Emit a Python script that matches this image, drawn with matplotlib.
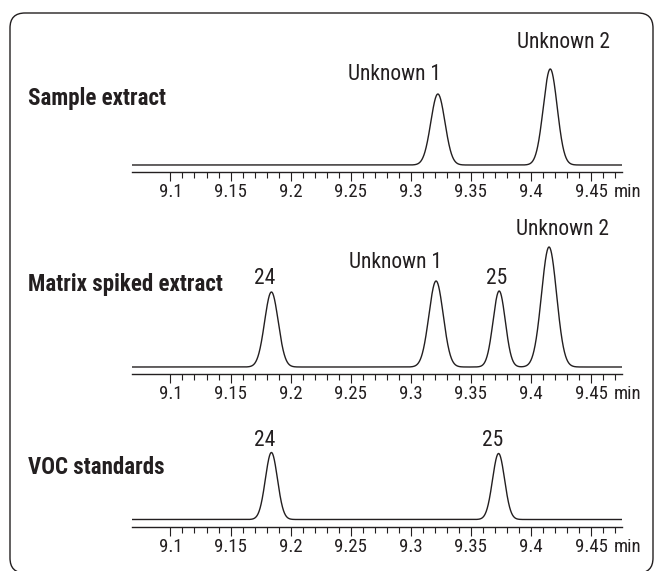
import matplotlib
matplotlib.use('Agg')
import numpy as np
import matplotlib.pyplot as plt
from matplotlib import font_manager as fm
from matplotlib.patches import FancyBboxPatch
from matplotlib.ticker import FixedLocator, FormatStrFormatter

INK = '#231f20'

# time axis (min)
t_start, t_end = 9.068, 9.4757
major_ticks = [9.10, 9.15, 9.20, 9.25, 9.30, 9.35, 9.40, 9.45]
minor_ticks = [9.11, 9.12, 9.13, 9.14, 9.16, 9.17, 9.18, 9.19, 9.21, 9.22, 9.23, 9.24,
               9.26, 9.27, 9.28, 9.29, 9.31, 9.32, 9.33, 9.34, 9.36, 9.37, 9.38, 9.39,
               9.41, 9.42, 9.43, 9.44, 9.46, 9.47]

# peak tables: retention time, height (rel.), FWHM (min)
sample_names = ['Unknown 1', 'Unknown 2']
sample_rt = [9.3225, 9.416]
sample_h = [71, 96]
sample_w = [0.0138, 0.0136]

spiked_names = ['24', 'Unknown 1', '25', 'Unknown 2']
spiked_rt = [9.184, 9.321, 9.3735, 9.415]
spiked_h = [75, 86, 76, 120]
spiked_w = [0.0133, 0.0140, 0.0120, 0.0148]

voc_names = ['24', '25']
voc_rt = [9.184, 9.373]
voc_h = [67, 66]
voc_w = [0.0118, 0.0118]


# pick a condensed face if one is installed, else plain Liberation Sans at a smaller size
def find_face():
    for fam in ['Roboto Condensed', 'Liberation Sans Narrow', 'Noto Sans Condensed']:
        try:
            fm.findfont(fm.FontProperties(family=fam), fallback_to_default=False)
            return fam, 'normal', 1.0
        except ValueError:
            pass
    for fam in ['Noto Sans', 'DejaVu Sans']:
        try:
            p = fm.findfont(fm.FontProperties(family=fam, stretch='condensed'),
                            fallback_to_default=False)
            if 'ondensed' in p:
                return fam, 'condensed', 1.0
        except ValueError:
            pass
    return 'Liberation Sans', 'normal', 0.83


face, stretch, k = find_face()
plt.rcParams['font.family'] = [face, 'DejaVu Sans']
plt.rcParams['font.stretch'] = stretch
fs_tick = 13.5 * k
fs_peak = 15.5 * k
fs_title = 16.5 * k

W, H = 654, 571
fig = plt.figure(figsize=(W / 100, H / 100), dpi=100)


def px_axes(left, top, right, bottom):
    return fig.add_axes([left / W, 1 - bottom / H, (right - left) / W, (bottom - top) / H])


def trace(t, rts, hs, ws):
    y = np.zeros_like(t)
    for rt, h, w in zip(rts, hs, ws):
        s = w / 2.3548
        y += h * np.exp(-0.5 * ((t - rt) / s) ** 2)
    return y


# panel: (title, title y px, axis-line y px, gap to baseline px, top px, peaks, label offsets px)
panels = [
    ('Sample extract', 98, 172, 7.0, 25,
     (sample_names, sample_rt, sample_h, sample_w), [(-43, 20), (13, 26)]),
    ('Matrix spiked extract', 285, 374, 7.0, 210,
     (spiked_names, spiked_rt, spiked_h, spiked_w), [(-7, 14), (-41, 19), (-3, 13), (13, 18)]),
    ('VOC standards', 467, 527, 7.5, 420,
     (voc_names, voc_rt, voc_h, voc_w), [(-7, 12), (-6, 13)]),
]

t = np.linspace(t_start, t_end, 3000)
tick_len, tick_pad = 6.5, 1.5

for title, ty, axis_y, gap, top, (names, rts, hs, ws), offs in panels:
    ax = px_axes(132, top, 622, axis_y)
    ax.set_xlim(t_start, t_end)
    ax.set_ylim(-gap, axis_y - top - gap)
    ax.plot(t, trace(t, rts, hs, ws), color=INK, lw=1.0, solid_joinstyle='round')
    for s in ['top', 'right', 'left']:
        ax.spines[s].set_visible(False)
    ax.spines['bottom'].set_color(INK)
    ax.spines['bottom'].set_linewidth(1.0)
    ax.set_yticks([])
    ax.xaxis.set_major_locator(FixedLocator(major_ticks))
    ax.xaxis.set_minor_locator(FixedLocator(minor_ticks))
    ax.xaxis.set_major_formatter(FormatStrFormatter('%g'))
    ax.tick_params(axis='x', which='major', length=tick_len, width=0.8, color=INK,
                   labelsize=fs_tick, labelcolor=INK, pad=tick_pad)
    ax.tick_params(axis='x', which='minor', length=4.3, width=0.8, color=INK)
    ax.patch.set_visible(False)
    min_y = axis_y + (tick_len + tick_pad) * 100 / 72
    fig.text(628 / W, 1 - min_y / H, 'min', fontsize=fs_tick, color=INK,
             ha='center', va='top')
    for name, rt, h, (dx, dy) in zip(names, rts, hs, offs):
        ax.annotate(name, (rt, h), xytext=(dx, dy), textcoords='offset pixels',
                    ha='center', va='center', fontsize=fs_peak, color=INK)
    fig.text(28 / W, 1 - ty / H, title, ha='left', va='center', fontsize=fs_title,
             fontweight='bold', color=INK)

# rounded frame, running off the right and bottom edge (display px, origin bottom-left)
frame = FancyBboxPatch((10, -2), 643, 560, boxstyle='round,pad=0,rounding_size=15',
                       transform=None, fill=False, ec=INK, lw=1.0, clip_on=False)
fig.patches.append(frame)

fig.savefig('out.png', dpi=100)
